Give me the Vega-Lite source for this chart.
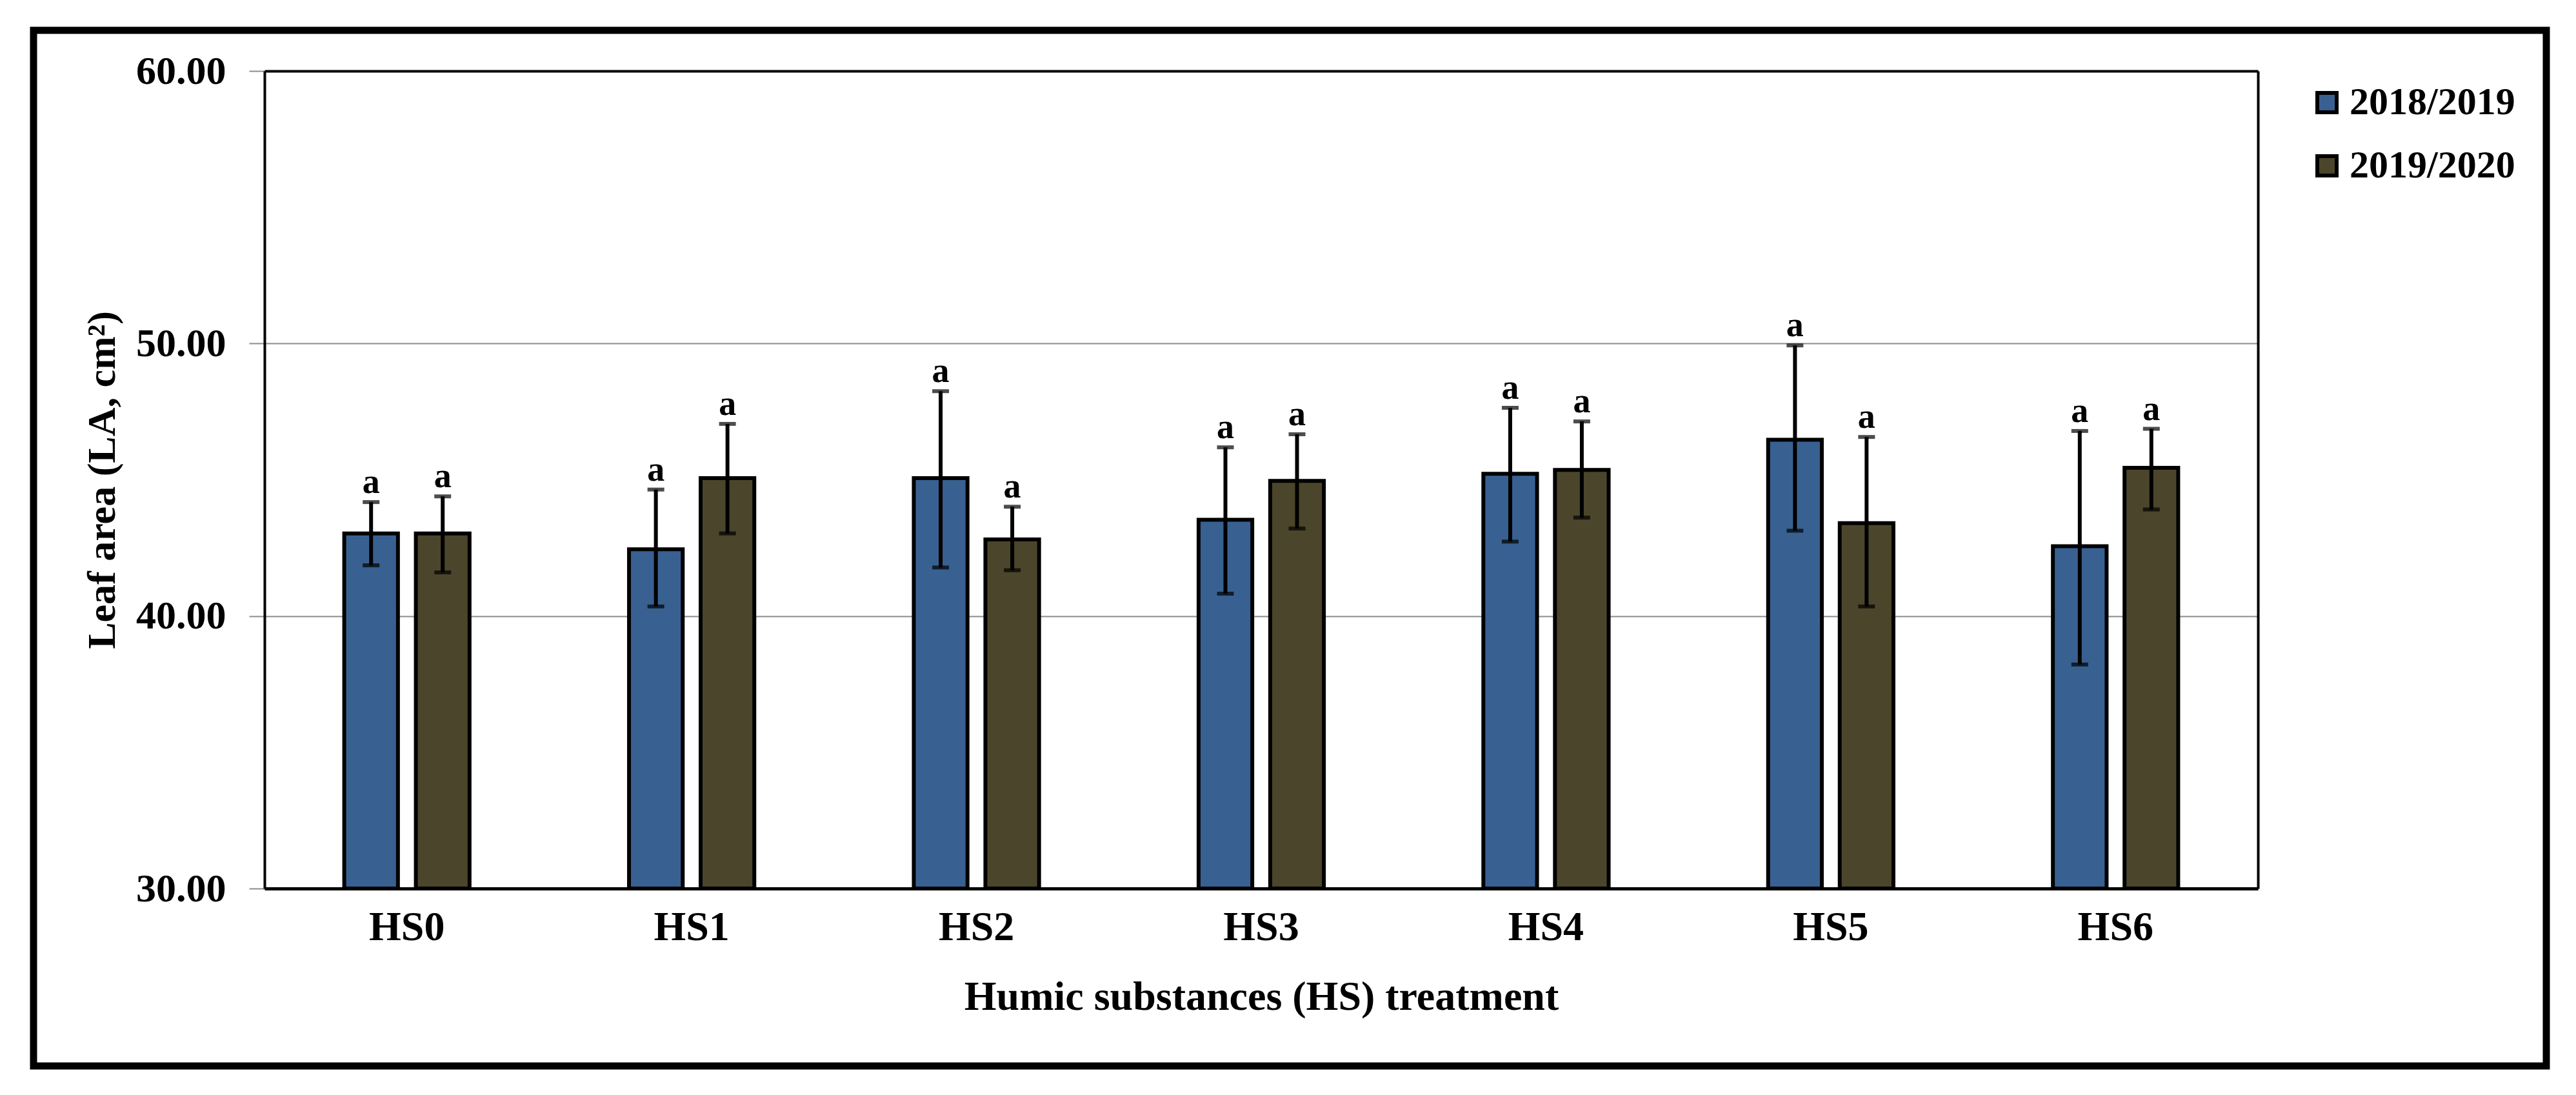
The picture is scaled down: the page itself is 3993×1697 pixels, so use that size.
{
  "$schema": "https://vega.github.io/schema/vega-lite/v6.json",
  "width": 3895,
  "height": 1605,
  "autosize": {"type": "none"},
  "padding": {"left": 52, "top": 47, "right": 46, "bottom": 45},
  "background": "white",
  "config": {
    "view": {"stroke": "black", "strokeWidth": 11, "fill": "white"},
    "font": "Liberation Serif",
    "axis": {
      "labelFont": "Liberation Serif",
      "titleFont": "Liberation Serif",
      "labelFontWeight": "bold",
      "titleFontWeight": "bold",
      "labelColor": "black",
      "titleColor": "black"
    }
  },
  "data": {
    "values": [
      {"treatment": "HS0", "season": "2018/2019", "mean": 43.03, "lo": 41.86, "hi": 44.18, "letter": "a"},
      {"treatment": "HS0", "season": "2019/2020", "mean": 43.03, "lo": 41.60, "hi": 44.39, "letter": "a"},
      {"treatment": "HS1", "season": "2018/2019", "mean": 42.45, "lo": 40.35, "hi": 44.64, "letter": "a"},
      {"treatment": "HS1", "season": "2019/2020", "mean": 45.06, "lo": 43.03, "hi": 47.05, "letter": "a"},
      {"treatment": "HS2", "season": "2018/2019", "mean": 45.06, "lo": 41.78, "hi": 48.25, "letter": "a"},
      {"treatment": "HS2", "season": "2019/2020", "mean": 42.81, "lo": 41.68, "hi": 44.01, "letter": "a"},
      {"treatment": "HS3", "season": "2018/2019", "mean": 43.53, "lo": 40.82, "hi": 46.19, "letter": "a"},
      {"treatment": "HS3", "season": "2019/2020", "mean": 44.96, "lo": 43.21, "hi": 46.67, "letter": "a"},
      {"treatment": "HS4", "season": "2018/2019", "mean": 45.22, "lo": 42.73, "hi": 47.64, "letter": "a"},
      {"treatment": "HS4", "season": "2019/2020", "mean": 45.36, "lo": 43.61, "hi": 47.14, "letter": "a"},
      {"treatment": "HS5", "season": "2018/2019", "mean": 46.47, "lo": 43.13, "hi": 49.93, "letter": "a"},
      {"treatment": "HS5", "season": "2019/2020", "mean": 43.41, "lo": 40.35, "hi": 46.57, "letter": "a"},
      {"treatment": "HS6", "season": "2018/2019", "mean": 42.56, "lo": 38.22, "hi": 46.79, "letter": "a"},
      {"treatment": "HS6", "season": "2019/2020", "mean": 45.44, "lo": 43.91, "hi": 46.87, "letter": "a"}
    ]
  },
  "layer": [
    {
      "mark": {"type": "bar", "stroke": "black", "strokeWidth": 6},
      "encoding": {
        "x": {
          "field": "treatment", "type": "nominal",
          "scale": {"range": [358, 3448], "paddingInner": 0.56, "paddingOuter": 0.28},
          "axis": {
            "orient": "bottom", "offset": -275,
            "title": "Humic substances (HS) treatment",
            "labelAngle": 0, "labelFontSize": 64, "titleFontSize": 64,
            "ticks": false, "labelPadding": 28, "titlePadding": 44,
            "domainColor": "black", "domainWidth": 5, "grid": false
          }
        },
        "xOffset": {"field": "season", "type": "nominal", "scale": {"paddingInner": 0.25, "paddingOuter": 0}},
        "y": {
          "field": "mean", "type": "quantitative",
          "scale": {"domain": [30, 60], "range": [1330, 63], "zero": false, "nice": false},
          "axis": {
            "orient": "left", "offset": -358,
            "values": [30, 40, 50, 60], "format": ".2f",
            "title": "Leaf area (LA, cm²)",
            "labelFontSize": 62, "titleFontSize": 62,
            "grid": true, "gridColor": "#8c8c8c", "gridWidth": 2,
            "tickSize": 24, "tickColor": "#8c8c8c", "tickWidth": 2,
            "labelPadding": 36, "titlePadding": 20,
            "domainColor": "black", "domainWidth": 4
          }
        },
        "y2": {"datum": 30},
        "color": {
          "field": "season", "type": "nominal",
          "scale": {"domain": ["2018/2019", "2019/2020"], "range": ["#386192", "#4B452B"]},
          "legend": {
            "orient": "none", "legendX": 3525, "legendY": 82,
            "title": null,
            "labelFontSize": 60, "labelFont": "Liberation Serif", "labelFontWeight": "bold", "labelColor": "black",
            "labelLimit": 600,
            "symbolType": "square", "symbolSize": 900,
            "symbolStrokeColor": "black", "symbolStrokeWidth": 6,
            "rowPadding": 38, "labelOffset": 5, "padding": 0
          }
        }
      }
    },
    {
      "mark": {"type": "rule", "color": "black", "strokeWidth": 6},
      "encoding": {
        "x": {"field": "treatment", "type": "nominal", "axis": null},
        "xOffset": {"field": "season", "type": "nominal"},
        "y": {"field": "lo", "type": "quantitative", "axis": null},
        "y2": {"field": "hi"}
      }
    },
    {
      "mark": {"type": "tick", "color": "black", "thickness": 6, "size": 26},
      "encoding": {
        "x": {"field": "treatment", "type": "nominal", "axis": null},
        "xOffset": {"field": "season", "type": "nominal"},
        "y": {"field": "lo", "type": "quantitative", "axis": null}
      }
    },
    {
      "mark": {"type": "tick", "color": "black", "thickness": 6, "size": 26},
      "encoding": {
        "x": {"field": "treatment", "type": "nominal", "axis": null},
        "xOffset": {"field": "season", "type": "nominal"},
        "y": {"field": "hi", "type": "quantitative", "axis": null}
      }
    },
    {
      "mark": {"type": "text", "font": "Liberation Serif", "fontWeight": "bold", "fontSize": 54, "baseline": "alphabetic", "dy": -14, "color": "black"},
      "encoding": {
        "x": {
          "field": "treatment", "type": "nominal",
          "axis": {"orient": "top", "offset": -63, "labels": false, "ticks": false, "title": null, "grid": false, "domainColor": "black", "domainWidth": 4}
        },
        "xOffset": {"field": "season", "type": "nominal"},
        "y": {
          "field": "hi", "type": "quantitative",
          "axis": {"orient": "right", "offset": -447, "labels": false, "ticks": false, "title": null, "grid": false, "domainColor": "black", "domainWidth": 4}
        },
        "text": {"field": "letter", "type": "nominal"}
      }
    }
  ],
  "resolve": {"axis": {"x": "independent", "y": "independent"}}
}
